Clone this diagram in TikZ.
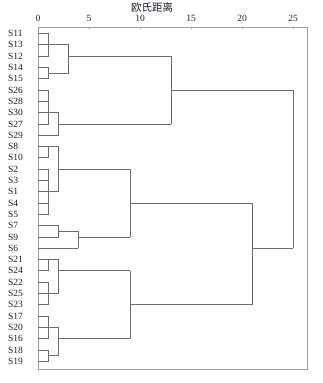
\documentclass[tikz,border=0pt]{standalone}
\usepackage{fontspec}
\setmainfont{Liberation Serif}
\newfontfamily\cjk{Noto Sans CJK SC}
\definecolor{treegray}{HTML}{6E6E6E}
\definecolor{framegray}{HTML}{A0A0A0}
\definecolor{labcol}{HTML}{1E1E2A}
\newcommand\ry[1]{(33.5+11.3*(#1))}
\newcommand\brk[5]{%
  \coordinate (#1-t) at (#2,{#3});
  \coordinate (#1-b) at (#2,{#4});
  \coordinate (#1-s) at (#2,{#5});
  \draw[tree] (#1-t) -- (#1-b);}
\begin{document}
\begin{tikzpicture}[x=1pt,y=-1pt,
  tree/.style={draw=treegray, line width=0.75pt},
  framebox/.style={draw=framegray, line width=0.8pt},
  lab/.style={anchor=west, inner sep=0pt, text=labcol, font=\fontsize{9.5}{10}\selectfont},
  ticklab/.style={inner sep=0pt, text=labcol, font=\fontsize{9.5}{10}\selectfont},
  ticktick/.style={draw=framegray, line width=0.6pt}]
\useasboundingbox (0,0) rectangle (322,383);
% frame
\coordinate (fr-tl) at (38,27);
\coordinate (fr-br) at (307,369);
\draw[framebox] (fr-tl) rectangle (fr-br);
% axis
\node[font=\cjk\fontsize{10.5}{11}\selectfont, text=labcol, inner sep=0pt] (title) at (152,7) {欧氏距离};
\foreach \d in {0,5,10,15,20,25}{
  \node[ticklab] (t\d) at ({38+10.2*\d},18) {\d};
  \coordinate (tk\d) at ({38+10.2*\d},27);
  \draw[ticktick] (tk\d) -- ++(0,2);
}
% leaves
\foreach \n [count=\i from 0] in {S11,S13,S12,S14,S15,S26,S28,S30,S27,S29,S8,S10,S2,S3,S1,S4,S5,S7,S9,S6,S21,S24,S22,S25,S23,S17,S20,S16,S18,S19}{
  \node[lab] (\n) at (8,{\ry{\i}}) {\n};
  \coordinate (L\i) at (38,{\ry{\i}});
}
\def\Xa{48.5}\def\Xb{58.5}\def\Xc{68.5}\def\Xd{78}
\def\Xe{130}\def\Xf{171}\def\Xg{252}\def\Xh{293}
% brackets
\brk{A1}{\Xa}{\ry{0}}{\ry{2}}{\ry{1}}
\brk{A2}{\Xa}{\ry{3}}{\ry{4}}{\ry{3.5}}
\brk{A}{\Xc}{\ry{1}}{\ry{3.5}}{\ry{2}}
\brk{B1}{\Xa}{\ry{5}}{\ry{8}}{\ry{7}}
\brk{B}{\Xb}{\ry{7}}{\ry{9}}{\ry{8}}
\brk{AB}{\Xf}{\ry{2}}{\ry{8}}{\ry{5}}
\brk{C1}{\Xa}{\ry{10}}{\ry{11}}{\ry{10}}
\brk{C2}{\Xa}{\ry{12}}{\ry{16}}{\ry{14}}
\brk{C}{\Xb}{\ry{10}}{\ry{14}}{\ry{12}}
\brk{D1}{\Xb}{\ry{17}}{\ry{18}}{\ry{17.5}}
\brk{D}{\Xd}{\ry{17.5}}{\ry{19}}{\ry{18}}
\brk{CD}{\Xe}{\ry{12}}{\ry{18}}{\ry{15}}
\brk{E1}{\Xa}{\ry{20}}{\ry{21}}{\ry{20}}
\brk{E2}{\Xa}{\ry{22}}{\ry{24}}{\ry{23}}
\brk{E}{\Xb}{\ry{20}}{\ry{23}}{\ry{21}}
\brk{F1}{\Xa}{\ry{25}}{\ry{27}}{\ry{26}}
\brk{F2}{\Xa}{\ry{28}}{\ry{29}}{\ry{28.5}}
\brk{F}{\Xb}{\ry{26}}{\ry{28.5}}{\ry{27}}
\brk{EF}{\Xe}{\ry{21}}{\ry{27}}{\ry{24}}
\brk{G}{\Xg}{\ry{15}}{\ry{24}}{\ry{19}}
\brk{R}{\Xh}{\ry{5}}{\ry{19}}{\ry{12}}
% leaf lines
\foreach \i/\p in {0/A1,1/A1,2/A1,3/A2,4/A2,5/B1,6/B1,7/B1,8/B1,9/B,
  10/C1,11/C1,12/C2,13/C2,14/C2,15/C2,16/C2,17/D1,18/D1,19/D,
  20/E1,21/E1,22/E2,23/E2,24/E2,25/F1,26/F1,27/F1,28/F2,29/F2}{
  \draw[tree] (L\i) -- (L\i -| \p-t);
}
% stems
\foreach \c/\p in {A1/A,A2/A,A/AB,B1/B,B/AB,AB/R,C1/C,C2/C,C/CD,D1/D,D/CD,CD/G,
  E1/E,E2/E,E/EF,F1/F,F2/F,F/EF,EF/G,G/R}{
  \draw[tree] (\c-s) -- (\c-s -| \p-t);
}
\end{tikzpicture}
\end{document}
